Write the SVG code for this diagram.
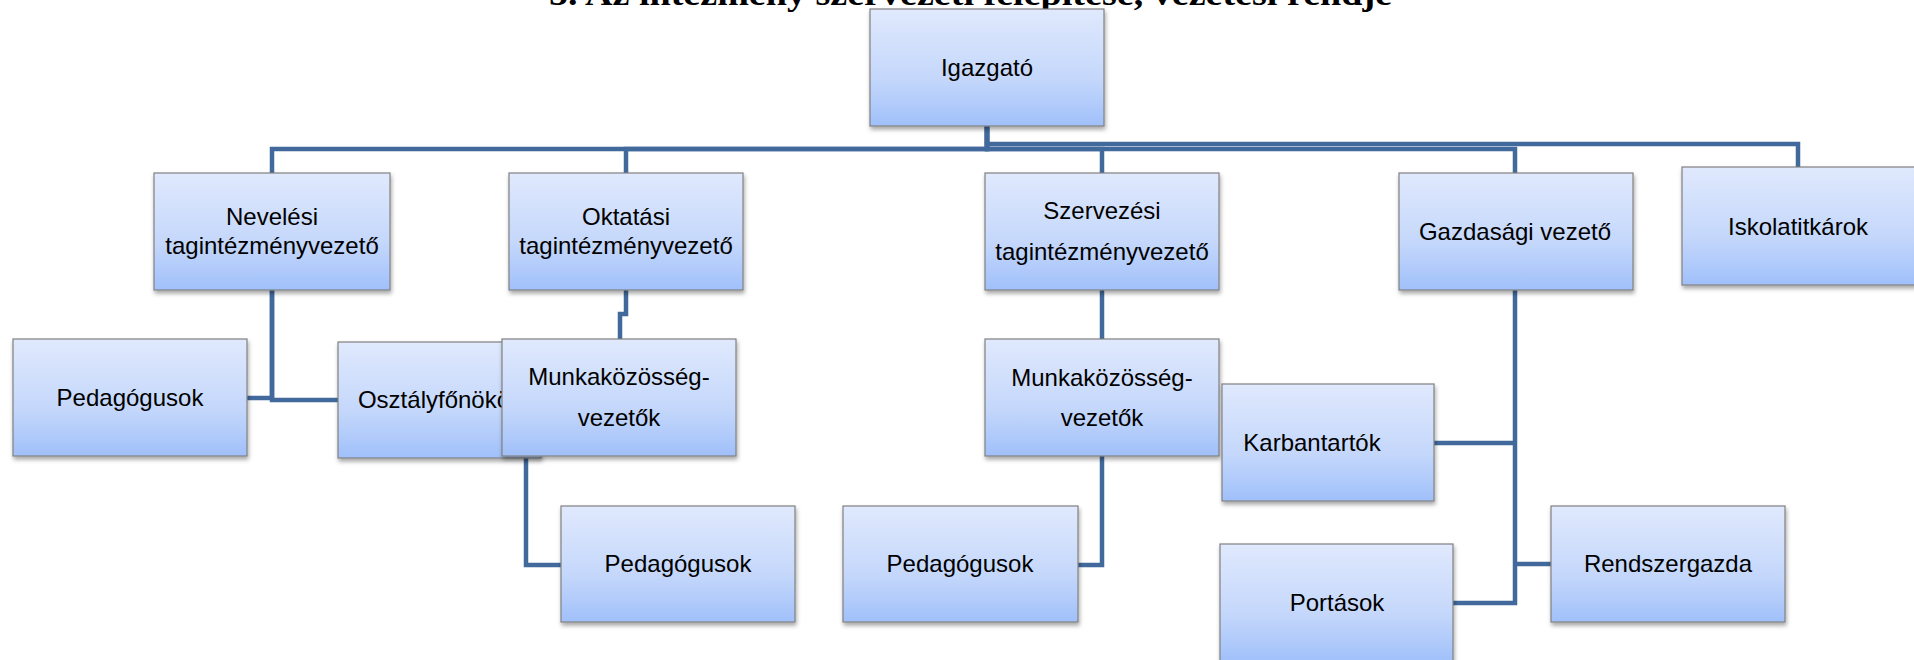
<svg xmlns="http://www.w3.org/2000/svg" width="1914" height="660" viewBox="0 0 1914 660">
<style>
.box{fill:url(#g);stroke:#808080;stroke-width:1.2;filter:url(#sh)}
.t{font-family:"Liberation Sans",Arial,sans-serif;font-size:24px;fill:#000;text-anchor:middle}
.c{fill:none;stroke:#41699C;stroke-width:4.5;stroke-linejoin:miter}
.title{font-family:"Liberation Serif","Times New Roman",serif;font-weight:bold;font-size:34px;fill:#000}
</style>
<defs>
<linearGradient id="g" x1="0" y1="0" x2="0" y2="1">
<stop offset="0" stop-color="#E0E9FD"/>
<stop offset="0.6" stop-color="#C4D7FB"/>
<stop offset="1" stop-color="#A0C0FA"/>
</linearGradient>
<filter id="sh" x="-10%" y="-10%" width="125%" height="130%">
<feDropShadow dx="1" dy="3" stdDeviation="2" flood-color="#000" flood-opacity="0.35"/>
</filter>
</defs>
<rect width="1914" height="660" fill="#fff"/>
<text class="title" x="549" y="5" textLength="843" lengthAdjust="spacingAndGlyphs">5. Az intézmény szervezeti felépítése, vezetési rendje</text>
<g id="connectors">
<path class="c" d="M987,126 V149 H272 V173"/>
<path class="c" d="M987,126 V149 H626 V173"/>
<path class="c" d="M987,126 V149 H1102 V173"/>
<path class="c" d="M987,126 V149 H1515 V173"/>
<path class="c" d="M987,126 V144 H1798 V167"/>
<path class="c" d="M272,290 V398 H247"/>
<path class="c" d="M272,290 V400 H338"/>
<path class="c" d="M626,290 V314 H620 V339"/>
<path class="c" d="M526,458 V565 H561"/>
<path class="c" d="M1102,290 V339"/>
<path class="c" d="M1102,456 V565 H1078"/>
<path class="c" d="M1515,290 V603 H1453"/>
<path class="c" d="M1515,443 H1434"/>
<path class="c" d="M1515,564 H1551"/>
</g>
<g id="igazgato"><rect class="box" x="870" y="9" width="234" height="117"/><text class="t" x="987" y="76">Igazgató</text></g>
<g id="neveles"><rect class="box" x="154" y="173" width="236" height="117"/><text class="t" x="272" y="225">Nevelési</text><text class="t" x="272" y="254">tagintézményvezető</text></g>
<g id="oktatas"><rect class="box" x="509" y="173" width="234" height="117"/><text class="t" x="626" y="225">Oktatási</text><text class="t" x="626" y="254">tagintézményvezető</text></g>
<g id="szervezes"><rect class="box" x="985" y="173" width="234" height="117"/><text class="t" x="1102" y="219">Szervezési</text><text class="t" x="1102" y="260">tagintézményvezető</text></g>
<g id="gazdasagi"><rect class="box" x="1399" y="173" width="234" height="117"/><text class="t" x="1515" y="240">Gazdasági vezető</text></g>
<g id="iskolatitkarok"><rect class="box" x="1682" y="167" width="234" height="118"/><text class="t" x="1798" y="235">Iskolatitkárok</text></g>
<g id="pedagogusok1"><rect class="box" x="13" y="339" width="234" height="117"/><text class="t" x="130" y="406">Pedagógusok</text></g>
<g id="osztalyfonokok"><rect class="box" x="338" y="342" width="203" height="116"/><text class="t" x="440" y="408">Osztályfőnökök</text></g>
<g id="munkakozosseg1"><rect class="box" x="502" y="339" width="234" height="117"/><text class="t" x="619" y="385">Munkaközösség-</text><text class="t" x="619" y="426">vezetők</text></g>
<g id="pedagogusok2"><rect class="box" x="561" y="506" width="234" height="116"/><text class="t" x="678" y="572">Pedagógusok</text></g>
<g id="munkakozosseg2"><rect class="box" x="985" y="339" width="234" height="117"/><text class="t" x="1102" y="386">Munkaközösség-</text><text class="t" x="1102" y="426">vezetők</text></g>
<g id="pedagogusok3"><rect class="box" x="843" y="506" width="235" height="116"/><text class="t" x="960" y="572">Pedagógusok</text></g>
<g id="karbantartok"><rect class="box" x="1222" y="384" width="212" height="117"/><text class="t" x="1312" y="451">Karbantartók</text></g>
<g id="portasok"><rect class="box" x="1220" y="544" width="233" height="118"/><text class="t" x="1337" y="611">Portások</text></g>
<g id="rendszergazda"><rect class="box" x="1551" y="506" width="234" height="116"/><text class="t" x="1668" y="572">Rendszergazda</text></g>
</svg>
